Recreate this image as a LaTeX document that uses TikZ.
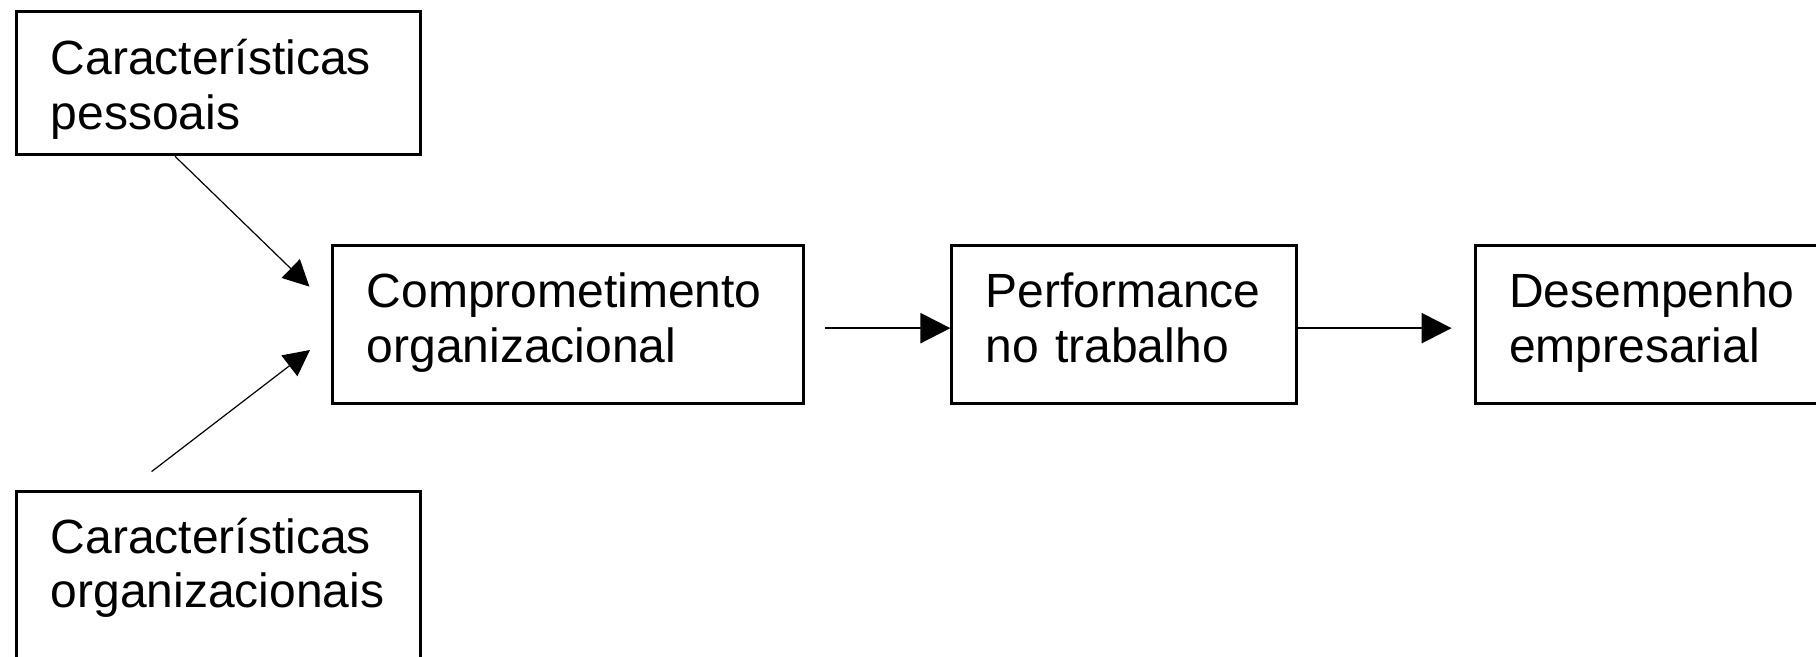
\documentclass[tikz,border=0pt]{standalone}
\usepackage{fontspec}
\setmainfont{Liberation Sans}
\usetikzlibrary{positioning, arrows.meta}

\begin{document}
\begin{tikzpicture}[x=1pt, y=1pt, >={Triangle[length=15pt, width=15pt]},
    block/.style={draw, line width=1.5pt, rectangle, align=left, anchor=north west, inner xsep=17pt, inner ysep=0pt, text height=30.85pt, text depth=48pt, font=\fontsize{24}{27.3}\selectfont},
    link/.style={->, line width=1.2pt},
    thinlink/.style={-{Triangle[length=13pt, width=13pt]}, line width=0.6pt}]

    \useasboundingbox (0,0) rectangle (908,-328.5);

    % Characteristics feeding the commitment
    \node[block, text width=167.7pt, text height=31.7pt, text depth=39.95pt] (CaracPessoais) at (7.65,-5) {Características\\pessoais};
    \node[block, text width=167.7pt, text height=30.7pt, text depth=90pt] (CaracOrganizacionais) at (7.65,-245.2) {Características\\organizacionais};

    % Main chain
    \node[block, text width=201.35pt] (Comprometimento) at (165.65,-122.15) {Comprometimento\\organizacional};
    \node[block, text width=138.2pt] (Performance) at (475.2,-122.15) {Performance\\no trabalho};
    \node[block, text width=170pt] (Desempenho) at (736.8,-122.15) {Desempenho\\empresarial};

    % Free ends of the diagonal arrows
    \coordinate (outPessoais) at ([xshift=79.85pt]CaracPessoais.south west);
    \coordinate (inPessoais) at ([xshift=-10.95pt, yshift=-21.15pt]Comprometimento.north west);
    \coordinate (outOrganizacionais) at ([xshift=68.15pt, yshift=9.4pt]CaracOrganizacionais.north west);
    \coordinate (inOrganizacionais) at ([xshift=-10.65pt, yshift=-52.85pt]Comprometimento.north west);

    % Arrows
    \draw[thinlink] (outPessoais) -- (inPessoais);
    \draw[thinlink] (outOrganizacionais) -- (inOrganizacionais);
    \draw[link] ([xshift=10pt, yshift=-1.75pt]Comprometimento.east) -- ([yshift=-1.75pt]Performance.west);
    \draw[link] ([yshift=-1.75pt]Performance.east) -- ([xshift=-11pt, yshift=-1.75pt]Desempenho.west);

\end{tikzpicture}
\end{document}
